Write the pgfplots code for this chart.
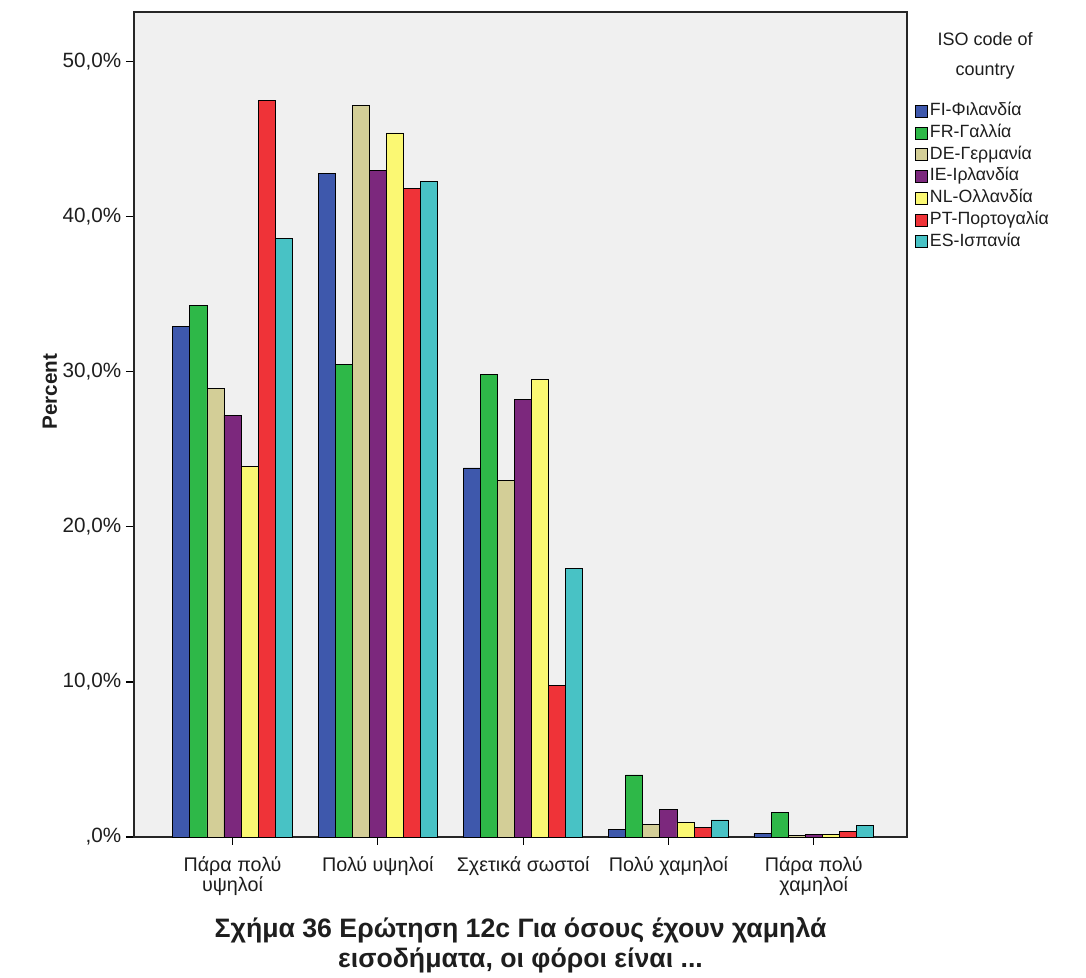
\documentclass[border=0pt]{standalone}
\usepackage{pgfplots}
\pgfplotsset{compat=1.18}
\usepackage{pgfplotstable}
\usepackage{fontspec}
\setmainfont{Liberation Sans}
\definecolor{cFI}{HTML}{3E58AC}
\definecolor{cFR}{HTML}{2EB848}
\definecolor{cDE}{HTML}{D3CE97}
\definecolor{cIE}{HTML}{7C287D}
\definecolor{cNL}{HTML}{FBF873}
\definecolor{cPT}{HTML}{EF3338}
\definecolor{cES}{HTML}{48C2C5}
\definecolor{bgc}{HTML}{F0F0F0}
\definecolor{txt}{HTML}{1E1E1E}
\pgfplotstableread{
x FI FR DE IE NL PT ES
0 32.9 34.3 28.9 27.2 23.9 47.5 38.6
1 42.8 30.5 47.2 43.0 45.4 41.8 42.3
2 23.8 29.8 23.0 28.2 29.5 9.8 17.3
3 0.5 4.0 0.8 1.8 0.95 0.6 1.1
4 0.2 1.6 0.1 0.15 0.15 0.35 0.75
}\datatable
\begin{document}
\begin{tikzpicture}
\path[use as bounding box, fill=white] (-100.5pt,-105.75pt) rectangle (714pt,627.75pt);
\begin{axis}[
  at={(0pt,0pt)}, anchor=south west,
  scale only axis, width=579.75pt, height=618.75pt,
  xmin=-0.678, xmax=4.642, ymin=0, ymax=53.2,
  clip=false,
  ybar=0pt, bar width=0.1175,
  axis background/.style={fill=bgc},
  axis line style={line width=1pt, black!85},
  tick align=outside, tick pos=left,
  major tick length=6pt, tick style={black, line width=0.9pt},
  xtick={0,1,2,3,4},
  xticklabels={{Πάρα πολύ\\υψηλοί},{Πολύ υψηλοί},{Σχετικά σωστοί},{Πολύ χαμηλοί},{Πάρα πολύ\\χαμηλοί}},
  xticklabel style={align=center, font=\fontsize{14.8}{15.5}\selectfont, text=txt, yshift=-5pt},
  ytick={0,10,20,30,40,50},
  yticklabels={{,0\%},{10,0\%},{20,0\%},{30,0\%},{40,0\%},{50,0\%}},
  yticklabel style={font=\fontsize{15.5}{17}\selectfont, text=txt},
  ylabel={Percent},
  ylabel style={at={(axis description cs:-0.109,0.54)}, anchor=center, font=\bfseries\fontsize{15.5}{17}\selectfont, text=txt},
  xlabel={Σχήμα 36 Ερώτηση 12c Για όσους έχουν χαμηλά\\εισοδήματα, οι φόροι είναι ...},
  xlabel style={at={(axis description cs:0.5,-0.131)}, anchor=center, align=center, font=\bfseries\fontsize{20}{22.5}\selectfont, text=txt},
  every axis plot/.append style={draw=black, line width=0.6pt},
  legend image code/.code={\draw[#1, draw=black, line width=0.6pt] (0pt,-4.5pt) rectangle (9pt,4.5pt);},
  legend cell align=left,
  legend style={at={(1.0104,0.893)}, anchor=north west, draw=none, fill=none, inner sep=0pt,
    row sep=0pt, font=\fontsize{13.3}{15}\selectfont, text=txt,
    nodes={inner sep=1.4pt, text height=10pt, text depth=3.5pt}},
]
\addplot[fill=cFI] table[x=x, y=FI] {\datatable};
\addplot[fill=cFR] table[x=x, y=FR] {\datatable};
\addplot[fill=cDE] table[x=x, y=DE] {\datatable};
\addplot[fill=cIE] table[x=x, y=IE] {\datatable};
\addplot[fill=cNL] table[x=x, y=NL] {\datatable};
\addplot[fill=cPT] table[x=x, y=PT] {\datatable};
\addplot[fill=cES] table[x=x, y=ES] {\datatable};
\legend{FI-Φιλανδία, FR-Γαλλία, DE-Γερμανία, IE-Ιρλανδία, NL-Ολλανδία, PT-Πορτογαλία, ES-Ισπανία}
\node[anchor=north, align=center, inner sep=0pt, font=\fontsize{13.5}{22.5}\selectfont, text=txt]
  at (axis description cs:1.101,0.975) {ISO code of\\country};
\end{axis}
\end{tikzpicture}
\end{document}
